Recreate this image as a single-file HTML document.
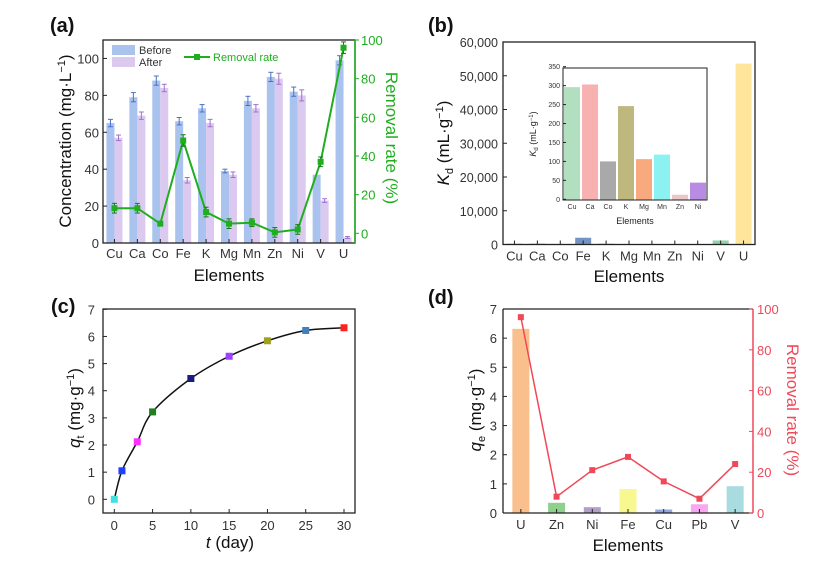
<!DOCTYPE html>
<html><head><meta charset="utf-8"><style>
body{margin:0;background:#fff;}
svg{display:block;font-family:"Liberation Sans",Arial,sans-serif;}
</style></head><body>
<svg id="fig" width="818" height="563" viewBox="0 0 818 563" xmlns="http://www.w3.org/2000/svg"></svg>
<script>
// Panel (a)
const aCats = ["Cu","Ca","Co","Fe","K","Mg","Mn","Zn","Ni","V","U"];
const aBefore = [65,79,88,66,73,39,77,90,82,37,99];
const aAfter = [57,69,84,34,65,37,73,89,80,23,3];
const aErrB = [2,2.5,2.5,2,2,1,2.5,2.5,2.5,0,2.5];
const aErrA = [1.5,2,2,1.5,2,1.5,2,3,3,1,0.5];
const aRate = [13,13,5,48,11,5,5.5,0.5,2,37,96];
const aRateErr = [2.5,2.5,1,3,2.5,2.5,2,2.5,2.5,2.5,3];
const aLeftTicks = [0,20,40,60,80,100];
const aRightTicks = [0,20,40,60,80,100];
// Panel (b)
const bCats = ["Cu","Ca","Co","Fe","K","Mg","Mn","Zn","Ni","V","U"];
const bKd = [296,303,100,2000,246,106,118,12,44,1200,53600];
const bTicks = [0,10000,20000,30000,40000,50000,60000];
const bTickLabels = ["0","10,000","20,000","30,000","40,000","50,000","60,000"];
const bInsetCats = ["Cu","Ca","Co","K","Mg","Mn","Zn","Ni"];
const bInsetKd = [296,303,100,246,106,118,12,44];
const bInsetTicks = [0,50,100,150,200,250,300,350];
// Panel (c)
const cT = [0,1,3,5,10,15,20,25,30];
const cQ = [0,1.05,2.12,3.22,4.45,5.27,5.84,6.22,6.32];
const cXTicks = [0,5,10,15,20,25,30];
const cYTicks = [0,1,2,3,4,5,6,7];
// Panel (d)
const dCats = ["U","Zn","Ni","Fe","Cu","Pb","V"];
const dQe = [6.32,0.35,0.2,0.82,0.12,0.3,0.92];
const dRate = [96,8,21,27.5,15.5,7,24];
const dLeftTicks = [0,1,2,3,4,5,6,7];
const dRightTicks = [0,20,40,60,80,100];

const svg = document.getElementById('fig');
const NS = "http://www.w3.org/2000/svg";
function el(tag, attrs, parent){
  const e = document.createElementNS(NS, tag);
  for (const k in attrs) e.setAttribute(k, attrs[k]);
  (parent||svg).appendChild(e);
  return e;
}
function txt(s, attrs, parent){ const t = el('text', attrs, parent); t.textContent = s; return t; }
function lin(d0,d1,r0,r1){ return v => r0 + (v-d0)/(d1-d0)*(r1-r0); }

// ============ Panel (a) ============
(function(){
  const g = el('g',{});
  
  
  const L=103,R=355,T=40,B=243;
  const y = lin(0,110,B,T);
  const y2 = lin(-5,100,B,T);
  const bw = (R-L)/aCats.length;
  const xc = i => L + bw*(i+0.5);
  aCats.forEach((c,i)=>{
    const w = 8;
    const b = el('rect',{x:xc(i)-w,y:y(aBefore[i]),width:w,height:B-y(aBefore[i]),fill:'#a9c3ee'},g);
    
    
    const a = el('rect',{x:xc(i),y:y(aAfter[i]),width:w,height:B-y(aAfter[i]),fill:'#dcc9f0'},g);
    
    
    [[xc(i)-w/2,aBefore[i],aErrB[i],'#4a70c8'],[xc(i)+w/2,aAfter[i],aErrA[i],'#a070d0']].forEach(([cx,v,e,col])=>{
      if(e<=0) return;
      el('line',{x1:cx,x2:cx,y1:y(v+e),y2:y(v-e),stroke:col,'stroke-width':1},g);
      el('line',{x1:cx-2.5,x2:cx+2.5,y1:y(v+e),y2:y(v+e),stroke:col,'stroke-width':1},g);
      el('line',{x1:cx-2.5,x2:cx+2.5,y1:y(v-e),y2:y(v-e),stroke:col,'stroke-width':1},g);
    });
  });
  const pts = aRate.map((v,i)=>xc(i)+','+y2(v)).join(' ');
  const pl = el('polyline',{points:pts,fill:'none',stroke:'#1fae1f','stroke-width':2},g);
  
  
  aRate.forEach((v,i)=>{
    el('line',{x1:xc(i),x2:xc(i),y1:y2(v+aRateErr[i]),y2:y2(v-aRateErr[i]),stroke:'#1a7a1a','stroke-width':1},g);
    el('line',{x1:xc(i)-2.5,x2:xc(i)+2.5,y1:y2(v+aRateErr[i]),y2:y2(v+aRateErr[i]),stroke:'#1a7a1a'},g);
    el('line',{x1:xc(i)-2.5,x2:xc(i)+2.5,y1:y2(v-aRateErr[i]),y2:y2(v-aRateErr[i]),stroke:'#1a7a1a'},g);
    const m = el('rect',{x:xc(i)-3,y:y2(v)-3,width:6,height:6,fill:'#1fae1f'},g);
    
    
  });
  el('rect',{x:L,y:T,width:R-L,height:B-T,fill:'none',stroke:'#222','stroke-width':1.3},g);
  el('line',{x1:R,x2:R,y1:T,y2:B,stroke:'#1fae1f','stroke-width':1.5},g);
  aLeftTicks.forEach(v=>{
    el('line',{x1:L,x2:L+4,y1:y(v),y2:y(v),stroke:'#222'},g);
    txt(String(v),{x:L-4,y:y(v)+5,'text-anchor':'end','font-size':13,fill:'#333'},g);
  });
  aRightTicks.forEach(v=>{
    el('line',{x1:R,x2:R+4,y1:y2(v),y2:y2(v),stroke:'#1fae1f'},g);
    txt(String(v),{x:R+6,y:y2(v)+5,'font-size':13,fill:'#1fae1f'},g);
  });
  aCats.forEach((c,i)=>{
    el('line',{x1:xc(i),x2:xc(i),y1:B,y2:B-4,stroke:'#222'},g);
    txt(c,{x:xc(i),y:B+15,'text-anchor':'middle','font-size':13,fill:'#333'},g);
  });
  const t1 = txt('Elements',{x:229,y:281,'text-anchor':'middle','font-size':17,fill:'#111'},g);
   
  const t2 = el('text',{transform:'translate(71,141) rotate(-90)','text-anchor':'middle','font-size':17,fill:'#111'},g);
  t2.innerHTML = 'Concentration (mg·L<tspan dy="-6" font-size="11">−1</tspan><tspan dy="6">)</tspan>';
   
  const t3 = txt('Removal rate (%)',{transform:'translate(386,138) rotate(90)','text-anchor':'middle','font-size':17,fill:'#1fae1f'},g);
   
  const lg = el('g',{},g);
   
  el('rect',{x:112,y:45,width:23,height:10,fill:'#a9c3ee'},lg);
  txt('Before',{x:139,y:54,'font-size':11,fill:'#333'},lg);
  el('rect',{x:112,y:57,width:23,height:10,fill:'#dcc9f0'},lg);
  txt('After',{x:139,y:66,'font-size':11,fill:'#333'},lg);
  el('line',{x1:184,x2:210,y1:57,y2:57,stroke:'#1fae1f','stroke-width':2},lg);
  el('rect',{x:194,y:54,width:6,height:6,fill:'#1fae1f'},lg);
  txt('Removal rate',{x:213,y:61,'font-size':11,fill:'#1fae1f'},lg);
  txt('(a)',{x:50,y:32,'font-size':20,'font-weight':'bold',fill:'#111'},g);
})();

// ============ Panel (b) ============
(function(){
  const g = el('g',{});
  
  
  const L=503,R=755,T=42,B=244.5;
  const y = lin(0,60000,B,T);
  const bw=(R-L)/bCats.length;
  const xc=i=>L+bw*(i+0.5);
  const cols=['#a8dcb8','#f6a8a8','#a0a0a0','#5b80b8','#b8b070','#f8a070','#80f0f0','#e8c0c0','#b080e0','#7fc9a0','#ffe08a'];
  bCats.forEach((c,i)=>{
    const h=B-y(bKd[i]);
    const r=el('rect',{x:xc(i)-8,y:y(bKd[i]),width:16,height:h,fill:cols[i],opacity:0.85},g);
     
    el('line',{x1:xc(i),x2:xc(i),y1:B,y2:B-4,stroke:'#222'},g);
    txt(c,{x:xc(i),y:B+16,'text-anchor':'middle','font-size':13,fill:'#333'},g);
  });
  el('rect',{x:L,y:T,width:R-L,height:B-T,fill:'none',stroke:'#222','stroke-width':1.3},g);
  bTicks.forEach((v,i)=>{
    el('line',{x1:L,x2:L+4,y1:y(v),y2:y(v),stroke:'#222'},g);
    txt(bTickLabels[i],{x:L-5,y:y(v)+5,'text-anchor':'end','font-size':12.5,fill:'#333'},g);
  });
  const tx=txt('Elements',{x:629,y:282,'text-anchor':'middle','font-size':17,fill:'#111'},g);
   
  const ty=el('text',{transform:'translate(449,143) rotate(-90)','text-anchor':'middle','font-size':17,fill:'#111'},g);
  ty.innerHTML='<tspan font-style="italic">K</tspan><tspan dy="4" font-size="11">d</tspan><tspan dy="-4"> (mL·g</tspan><tspan dy="-6" font-size="11">−1</tspan><tspan dy="6">)</tspan>';
   
  txt('(b)',{x:428,y:32,'font-size':20,'font-weight':'bold',fill:'#111'},g);
  const ig=el('g',{},g);
   
  const iL=563,iR=707,iT=68,iB=200;
  const iy=lin(0,350,199.3,66.7);
  const ibw=(iR-iL)/bInsetCats.length;
  const ixc=i=>iL+ibw*(i+0.5);
  const icols=['#a8dcb8','#f6a8a8','#a0a0a0','#b8b070','#f8a070','#80f0f0','#e8c0c0','#b080e0'];
  bInsetCats.forEach((c,i)=>{
    const r=el('rect',{x:ixc(i)-8,y:iy(bInsetKd[i]),width:16,height:iB-iy(bInsetKd[i]),fill:icols[i],opacity:0.9},ig);
     
    txt(c,{x:ixc(i),y:iB+9,'text-anchor':'middle','font-size':7,fill:'#333'},ig);
  });
  el('rect',{x:iL,y:iT,width:iR-iL,height:iB-iT,fill:'none',stroke:'#222','stroke-width':1},ig);
  bInsetTicks.forEach(v=>{
    el('line',{x1:iL,x2:iL+3,y1:iy(v),y2:iy(v),stroke:'#222'},ig);
    txt(String(v),{x:iL-3,y:iy(v)+2.5,'text-anchor':'end','font-size':7,fill:'#333'},ig);
  });
  txt('Elements',{x:635,y:224,'text-anchor':'middle','font-size':9,fill:'#222'},ig);
  const ity=el('text',{transform:'translate(536,134) rotate(-90)','text-anchor':'middle','font-size':9,fill:'#222'},ig);
  ity.innerHTML='<tspan font-style="italic">K</tspan><tspan dy="2" font-size="6">d</tspan><tspan dy="-2"> (mL·g</tspan><tspan dy="-3" font-size="6">−1</tspan><tspan dy="3">)</tspan>';
})();

// ============ Panel (c) ============
(function(){
  const g = el('g',{});
  
  
  const L=103,R=355,T=309,B=513;
  const x=lin(0,30,114.3,344);
  const y=lin(0,7,499.3,309.3);
  const P=cT.map((t,i)=>[x(t),y(cQ[i])]);
  let d='M'+P[0][0]+','+P[0][1];
  for(let i=0;i<P.length-1;i++){
    const p0=P[Math.max(0,i-1)],p1=P[i],p2=P[i+1],p3=P[Math.min(P.length-1,i+2)];
    const c1=[p1[0]+(p2[0]-p0[0])/6,p1[1]+(p2[1]-p0[1])/6];
    const c2=[p2[0]-(p3[0]-p1[0])/6,p2[1]-(p3[1]-p1[1])/6];
    d+=' C'+c1[0]+','+c1[1]+' '+c2[0]+','+c2[1]+' '+p2[0]+','+p2[1];
  }
  const cv=el('path',{d:d,fill:'none',stroke:'#111','stroke-width':1.5},g);
   
  const cols=['#40e0e0','#2040ff','#ff30ff','#208020','#1a1a80','#a040ff','#a0a020','#4080c0','#ff2020'];
  cT.forEach((t,i)=>{
    const m=el('rect',{x:x(t)-3.5,y:y(cQ[i])-3.5,width:7,height:7,fill:cols[i]},g);
     
  });
  el('rect',{x:L,y:T,width:R-L,height:B-T,fill:'none',stroke:'#222','stroke-width':1.3},g);
  cYTicks.forEach(v=>{
    el('line',{x1:L,x2:L+4,y1:y(v),y2:y(v),stroke:'#222'},g);
    txt(String(v),{x:L-8,y:y(v)+5,'text-anchor':'end','font-size':13,fill:'#333'},g);
  });
  cXTicks.forEach(v=>{
    el('line',{x1:x(v),x2:x(v),y1:B,y2:B-4,stroke:'#222'},g);
    txt(String(v),{x:x(v),y:B+17,'text-anchor':'middle','font-size':13,fill:'#333'},g);
  });
  const tx=el('text',{x:230,y:548,'text-anchor':'middle','font-size':17,fill:'#111'},g);
  tx.innerHTML='<tspan font-style="italic">t</tspan> (day)';
   
  const ty=el('text',{transform:'translate(80,408) rotate(-90)','text-anchor':'middle','font-size':17,fill:'#111'},g);
  ty.innerHTML='<tspan font-style="italic">q</tspan><tspan dy="4" font-size="11">t</tspan><tspan dy="-4"> (mg·g</tspan><tspan dy="-6" font-size="11">−1</tspan><tspan dy="6">)</tspan>';
   
  txt('(c)',{x:51,y:313,'font-size':20,'font-weight':'bold',fill:'#111'},g);
})();

// ============ Panel (d) ============
(function(){
  const g = el('g',{});
  
  
  const L=503,R=753,T=309,B=513;
  const y=lin(0,7,B,T);
  const y2=lin(0,100,B,T);
  const bw=(R-L)/dCats.length;
  const xc=i=>L+bw*(i+0.5);
  const cols=['#f9c08e','#8fd08f','#b0a0c8','#f8f890','#90a8e0','#f8a8f0','#a8dce0'];
  dCats.forEach((c,i)=>{
    const r=el('rect',{x:xc(i)-8.5,y:y(dQe[i]),width:17,height:B-y(dQe[i]),fill:cols[i]},g);
     
    el('line',{x1:xc(i),x2:xc(i),y1:B,y2:B-4,stroke:'#222'},g);
    txt(c,{x:xc(i),y:B+16,'text-anchor':'middle','font-size':13,fill:'#333'},g);
  });
  const pl=el('polyline',{points:dRate.map((v,i)=>xc(i)+','+y2(v)).join(' '),fill:'none',stroke:'#f04858','stroke-width':1.5},g);
   
  dRate.forEach((v,i)=>{
    const m=el('rect',{x:xc(i)-3,y:y2(v)-3,width:6,height:6,fill:'#f04858'},g);
     
  });
  el('line',{x1:L,x2:R,y1:T,y2:T,stroke:'#222','stroke-width':1.3},g);
  el('line',{x1:L,x2:R,y1:B,y2:B,stroke:'#222','stroke-width':1.3},g);
  el('line',{x1:L,x2:L,y1:T,y2:B,stroke:'#222','stroke-width':1.3},g);
  el('line',{x1:R,x2:R,y1:T,y2:B,stroke:'#f04858','stroke-width':1.5},g);
  dLeftTicks.forEach(v=>{
    el('line',{x1:L,x2:L+4,y1:y(v),y2:y(v),stroke:'#222'},g);
    txt(String(v),{x:L-6,y:y(v)+5,'text-anchor':'end','font-size':13,fill:'#333'},g);
  });
  dRightTicks.forEach(v=>{
    el('line',{x1:R,x2:R-4,y1:y2(v),y2:y2(v),stroke:'#f04858'},g);
    txt(String(v),{x:R+4,y:y2(v)+5,'font-size':13,fill:'#f04858'},g);
  });
  const tx=txt('Elements',{x:628,y:551,'text-anchor':'middle','font-size':17,fill:'#111'},g);
   
  const ty=el('text',{transform:'translate(481,410) rotate(-90)','text-anchor':'middle','font-size':17,fill:'#111'},g);
  ty.innerHTML='<tspan font-style="italic">q</tspan><tspan dy="4" font-size="11">e</tspan><tspan dy="-4"> (mg·g</tspan><tspan dy="-6" font-size="11">−1</tspan><tspan dy="6">)</tspan>';
   
  const t3=txt('Removal rate (%)',{transform:'translate(787,410) rotate(90)','text-anchor':'middle','font-size':17,fill:'#f04858'},g);
   
  txt('(d)',{x:428,y:304,'font-size':20,'font-weight':'bold',fill:'#111'},g);
})();
</script>
</body></html>
